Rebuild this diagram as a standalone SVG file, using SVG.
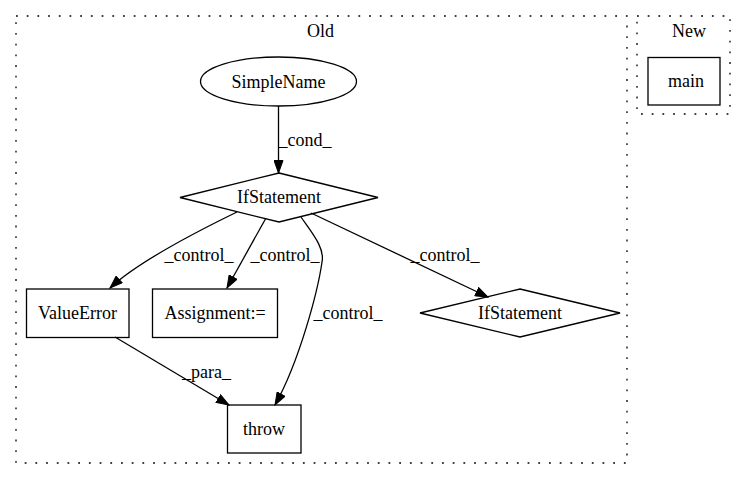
<svg xmlns="http://www.w3.org/2000/svg" width="747" height="480" viewBox="0 0 747 480">
<style>
text{font-family:"Liberation Serif","Times New Roman",serif;font-size:18px;fill:#000;text-anchor:middle}
.cl{fill:none;stroke:#000;stroke-width:1.3;stroke-dasharray:1.8,8.9}
.n{fill:none;stroke:#000;stroke-width:1.3}
.e{fill:none;stroke:#000;stroke-width:1.3;marker-end:url(#ah)}
</style>
<defs>
<marker id="ah" markerWidth="14" markerHeight="10" refX="13" refY="5" orient="auto" markerUnits="userSpaceOnUse">
<path d="M0.5,0.5 L13,5 L0.5,9.5 Z" fill="#000" stroke="#000" stroke-width="1"/>
</marker>
</defs>
<rect width="747" height="480" fill="#fff"/>
<g id="cluster_old">
<rect class="cl" x="16" y="16" width="611" height="447"/>
<text x="320.5" y="37">Old</text>
</g>
<g id="cluster_new">
<rect class="cl" x="637" y="16" width="93" height="98"/>
<text x="689" y="37">New</text>
</g>
<g id="main">
<rect class="n" x="648" y="57.5" width="72" height="47.5"/>
<text x="686" y="87">main</text>
</g>
<g id="SimpleName">
<ellipse class="n" cx="278.5" cy="81.5" rx="78" ry="24.5"/>
<text x="278.5" y="87.5">SimpleName</text>
</g>
<g id="IfStatement1">
<polygon class="n" points="279,173 378,197.5 279,222 180,197.5"/>
<text x="279" y="203">IfStatement</text>
</g>
<g id="ValueError">
<rect class="n" x="26.5" y="289" width="102.5" height="48.5"/>
<text x="77.5" y="319">ValueError</text>
</g>
<g id="Assignment">
<rect class="n" x="152.5" y="289" width="125" height="48.5"/>
<text x="215" y="319">Assignment:=</text>
</g>
<g id="IfStatement2">
<polygon class="n" points="520,289 620,313 520,337 420,313"/>
<text x="520" y="319">IfStatement</text>
</g>
<g id="throw">
<rect class="n" x="227.5" y="405" width="73.5" height="48"/>
<text x="264" y="435">throw</text>
</g>
<g id="edges">
<path class="e" d="M278.5,106 L278.5,173"/>
<text x="305" y="146">_cond_</text>
<path class="e" d="M237,212 C200,230 140,260 110,288"/>
<text x="199" y="261">_control_</text>
<path class="e" d="M266,218 L227,288"/>
<text x="285" y="261">_control_</text>
<path class="e" d="M301,217 C312,233 325,248 322,262 C318,290 300,360 275,405"/>
<text x="348" y="319">_control_</text>
<path class="e" d="M311,213 L488,297"/>
<text x="445" y="261">_control_</text>
<path class="e" d="M115,337 L229,405"/>
<text x="206.5" y="378">_para_</text>
</g>
</svg>
